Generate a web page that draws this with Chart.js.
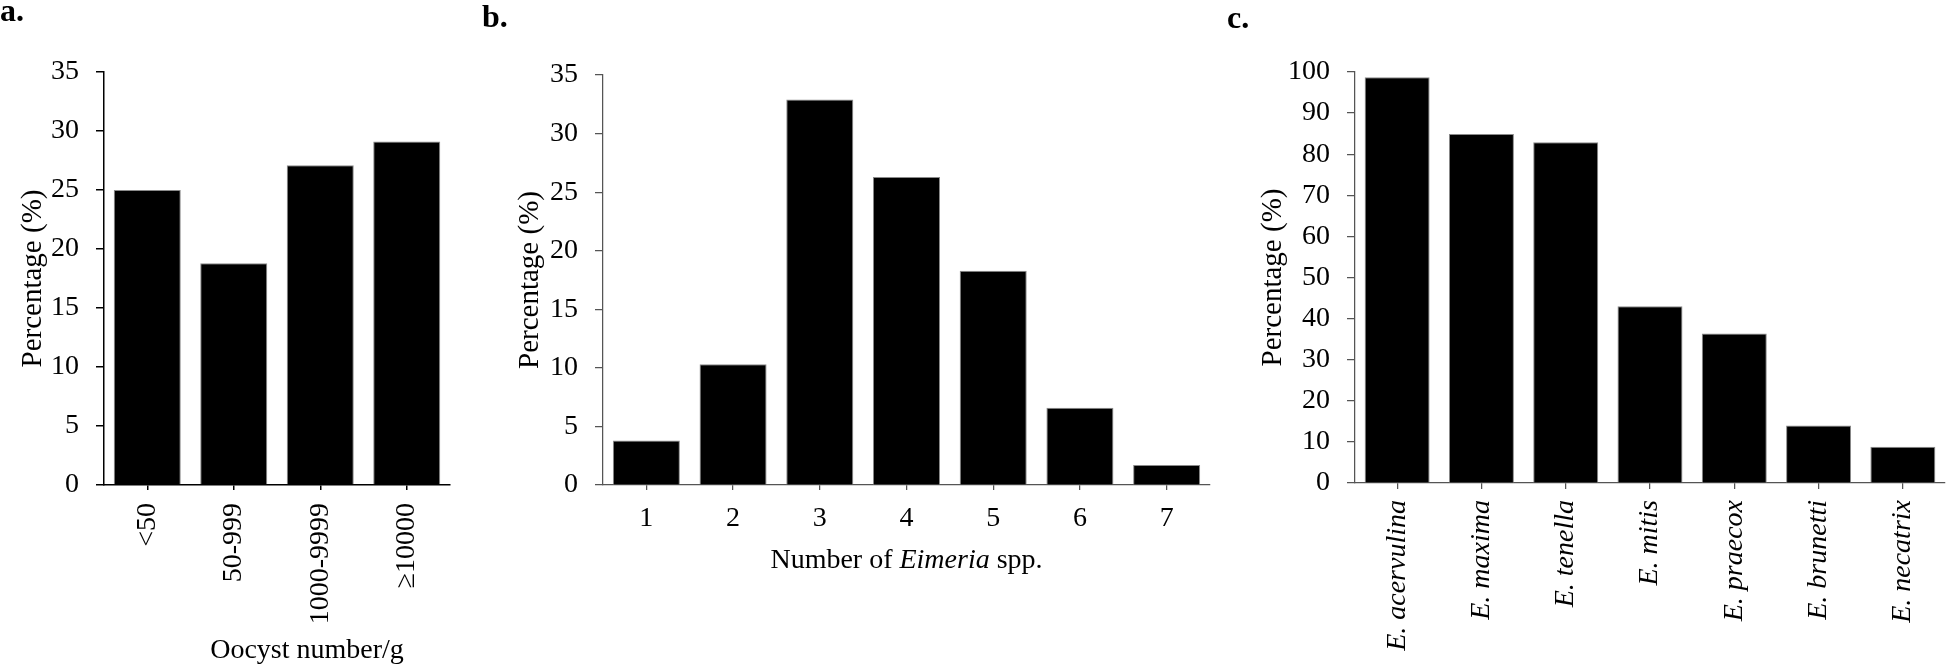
<!DOCTYPE html>
<html>
<head>
<meta charset="utf-8">
<script src="https://cdn.jsdelivr.net/npm/chart.js@4.4.1/dist/chart.umd.min.js"></script>
<style>
  html, body { margin: 0; padding: 0; background: #fff; }
  #page { position: relative; width: 1949px; height: 665px; overflow: hidden; background: #fff; }
  canvas { position: absolute; top: 0; }
</style>
</head>
<body>
<div id="page">
  <canvas id="panelA" width="470" height="665" style="left:0px"></canvas>
  <canvas id="panelB" width="745" height="665" style="left:470px"></canvas>
  <canvas id="panelC" width="734" height="665" style="left:1215px"></canvas>
</div>
<script>
const oocystCategories = ['<50', '50-999', '1000-9999', '≥10000'];
const oocystValues = [25.0, 18.8, 27.1, 29.1];

const speciesCountCategories = ['1', '2', '3', '4', '5', '6', '7'];
const speciesCountValues = [3.8, 10.3, 32.9, 26.3, 18.3, 6.6, 1.7];

const speciesNames = ['E. acervulina', 'E. maxima', 'E. tenella', 'E. mitis', 'E. praecox', 'E. brunetti', 'E. necatrix'];
const speciesValues = [98.7, 84.9, 82.9, 43.0, 36.4, 14.0, 8.8];

const percentAxisA = { max: 35, step: 5 };
const percentAxisB = { max: 35, step: 5 };
const percentAxisC = { max: 100, step: 10 };

const SERIF = '"Liberation Serif", "Times New Roman", serif';

// panel letter + x axis title (title may mix roman and italic)
const annotate = {
  id: 'annotate',
  afterDraw(chart, args, opts) {
    const { ctx, chartArea } = chart;
    ctx.save();
    ctx.fillStyle = '#000';
    ctx.textBaseline = 'alphabetic';
    ctx.textAlign = 'left';
    ctx.font = `bold 32px ${SERIF}`;
    ctx.fillText(opts.letter, opts.letterX, opts.letterY);

    if (opts.xTitle) {
      const parts = opts.xTitle.map(([text, italic]) => {
        const font = `${italic ? 'italic ' : ''}28px ${SERIF}`;
        ctx.font = font;
        return { text, font, width: ctx.measureText(text).width };
      });
      const total = parts.reduce((sum, part) => sum + part.width, 0);
      let x = (chartArea.left + chartArea.right) / 2 + opts.xTitleShift - total / 2;
      parts.forEach((part) => {
        ctx.font = part.font;
        ctx.fillText(part.text, x, opts.xTitleBaseline);
        x += part.width;
      });
    }
    ctx.restore();
  }
};

function makePanel(canvasId, panel) {
  return new Chart(document.getElementById(canvasId), {
    type: 'bar',
    data: {
      labels: panel.labels,
      datasets: [{
        data: panel.values,
        backgroundColor: '#000',
        borderColor: '#8a8a8a',
        borderWidth: 1,
        borderSkipped: 'bottom',
        categoryPercentage: 1,
        barPercentage: panel.barPercentage
      }]
    },
    options: {
      responsive: false,
      animation: false,
      events: [],
      layout: { padding: { left: 0, right: panel.padRight, top: panel.top, bottom: 0 } },
      plugins: {
        legend: { display: false },
        tooltip: { enabled: false },
        annotate: panel.annotate
      },
      scales: {
        x: {
          offset: true,
          grid: {
            offset: false,
            drawOnChartArea: false,
            drawTicks: true,
            tickLength: panel.xTickLength,
            color: panel.axisColor,
            lineWidth: panel.axisWidth
          },
          border: { display: true, color: panel.axisColor, width: panel.axisWidth },
          ticks: {
            color: '#000',
            padding: panel.xTickPadding,
            autoSkip: false,
            minRotation: panel.rotation,
            maxRotation: panel.rotation,
            font: { family: SERIF, size: 28, style: panel.italicLabels ? 'italic' : 'normal' }
          },
          afterFit: (scale) => { scale.height = 665 - panel.bottom; }
        },
        y: {
          min: 0,
          max: panel.yAxis.max,
          grid: {
            drawOnChartArea: false,
            drawTicks: true,
            tickLength: 8,
            color: panel.axisColor,
            lineWidth: panel.axisWidth
          },
          border: { display: true, color: panel.axisColor, width: panel.axisWidth },
          ticks: {
            stepSize: panel.yAxis.step,
            color: '#000',
            padding: 17,
            font: { family: SERIF, size: 28 }
          },
          title: {
            display: true,
            text: 'Percentage (%)',
            color: '#000',
            padding: { top: panel.yTitlePad, bottom: 0 },
            font: { family: SERIF, size: 29 }
          },
          afterFit: (scale) => { scale.width = panel.left; }
        }
      }
    },
    plugins: [annotate]
  });
}

makePanel('panelA', {
  labels: oocystCategories,
  values: oocystValues,
  yAxis: percentAxisA,
  left: 104, top: 72, bottom: 485, padRight: 20,
  barPercentage: 0.775,
  rotation: 90, italicLabels: false,
  xTickLength: 5, xTickPadding: 13,
  axisColor: '#000', axisWidth: 1.5,
  yTitlePad: 16,
  annotate: {
    letter: 'a.', letterX: 0, letterY: 21,
    xTitle: [['Oocyst number/g', false]], xTitleShift: 30, xTitleBaseline: 658
  }
});

makePanel('panelB', {
  labels: speciesCountCategories,
  values: speciesCountValues,
  yAxis: percentAxisB,
  left: 133, top: 75, bottom: 485, padRight: 5,
  barPercentage: 0.773,
  rotation: 0, italicLabels: false,
  xTickLength: 5, xTickPadding: 12,
  axisColor: '#555', axisWidth: 1.25,
  yTitlePad: 43,
  annotate: {
    letter: 'b.', letterX: 12, letterY: 27,
    xTitle: [['Number of ', false], ['Eimeria', true], [' spp.', false]], xTitleShift: 0, xTitleBaseline: 568
  }
});

makePanel('panelC', {
  labels: speciesNames,
  values: speciesValues,
  yAxis: percentAxisC,
  left: 140, top: 72, bottom: 483, padRight: 4,
  barPercentage: 0.771,
  rotation: 90, italicLabels: true,
  xTickLength: 6, xTickPadding: 11,
  axisColor: '#555', axisWidth: 1.25,
  yTitlePad: 41,
  annotate: { letter: 'c.', letterX: 12, letterY: 28 }
});
</script>
</body>
</html>
